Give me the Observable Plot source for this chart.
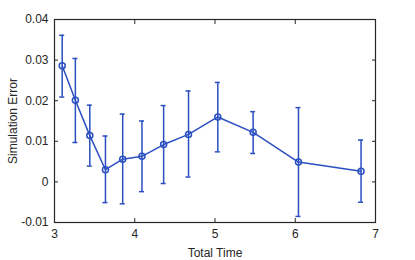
<!DOCTYPE html>
<html>
<head>
<meta charset="utf-8">
<script src="https://cdn.jsdelivr.net/npm/d3@7"></script>
<script src="https://cdn.jsdelivr.net/npm/@observablehq/plot@0.6"></script>
<style>
  html, body { margin: 0; padding: 0; background: #fff; }
</style>
</head>
<body>
<div id="chart"></div>
<script>
const totalTime = [3.096, 3.26, 3.44, 3.635, 3.85, 4.09, 4.36, 4.67, 5.035, 5.475, 6.04, 6.82];
const simError  = [0.0286, 0.0201, 0.0114, 0.0030, 0.0056, 0.0063, 0.0092, 0.0117, 0.0160, 0.0122, 0.0049, 0.0026];
const errUpper  = [0.0361, 0.0304, 0.0189, 0.0113, 0.0167, 0.0150, 0.0188, 0.0224, 0.0245, 0.0173, 0.0183, 0.0103];
const errLower  = [0.0209, 0.0097, 0.0039, -0.0051, -0.0054, -0.0024, -0.0004, 0.0012, 0.0074, 0.0070, -0.0085, -0.0050];
const xTicks = [3, 4, 5, 6, 7];
const yTicks = [-0.01, 0, 0.01, 0.02, 0.03, 0.04];

const data = totalTime.map((t, i) => ({t, e: simError[i], hi: errUpper[i], lo: errLower[i]}));

const blue = "#2a4fc0";
const axisColor = "#262626";
const fmtY = d => d === 0 ? "0" : String(d);

const chart = Plot.plot({
  width: 415,
  height: 260,
  marginLeft: 54,
  marginRight: 40,
  marginTop: 19,
  marginBottom: 38,
  style: {fontFamily: "'Liberation Sans', Arial, sans-serif", fontSize: "10px", color: axisColor, background: "#fff"},
  x: {domain: [3, 7]},
  y: {domain: [-0.01, 0.04]},
  marks: [
    Plot.axisX({ticks: xTicks, tickSize: 0, tickPadding: 7, tickFormat: d => String(d),
      label: "Total Time", labelAnchor: "center", labelArrow: "none", labelOffset: 34, fontSize: 12}),
    Plot.axisY({ticks: yTicks, tickSize: 0, tickPadding: 6, tickFormat: fmtY,
      label: "Simulation Error", labelAnchor: "center", labelArrow: "none", labelOffset: 46, fontSize: 12}),
    Plot.axisX({ticks: xTicks, anchor: "bottom", tickSize: 4, dy: -4, tickFormat: () => "", label: null, stroke: axisColor}),
    Plot.axisX({ticks: xTicks, anchor: "top", tickSize: 4, dy: 4, tickFormat: () => "", label: null, stroke: axisColor}),
    Plot.axisY({ticks: yTicks, anchor: "left", tickSize: 4, dx: 4, tickFormat: () => "", label: null, stroke: axisColor}),
    Plot.axisY({ticks: yTicks, anchor: "right", tickSize: 4, dx: -4, tickFormat: () => "", label: null, stroke: axisColor}),
    Plot.frame({stroke: axisColor, strokeWidth: 1.2}),
    Plot.ruleX(data, {x: "t", y1: "lo", y2: "hi", stroke: blue, strokeWidth: 1.5}),
    Plot.ruleY(data, {y: "hi", x1: "t", x2: "t", insetLeft: -2.5, insetRight: -2.5, stroke: blue, strokeWidth: 1.5}),
    Plot.ruleY(data, {y: "lo", x1: "t", x2: "t", insetLeft: -2.5, insetRight: -2.5, stroke: blue, strokeWidth: 1.5}),
    Plot.line(data, {x: "t", y: "e", stroke: blue, strokeWidth: 1.5}),
    Plot.dot(data, {x: "t", y: "e", r: 3, stroke: blue, strokeWidth: 1.5, fill: "none"})
  ]
});
document.getElementById("chart").appendChild(chart);
</script>
</body>
</html>
